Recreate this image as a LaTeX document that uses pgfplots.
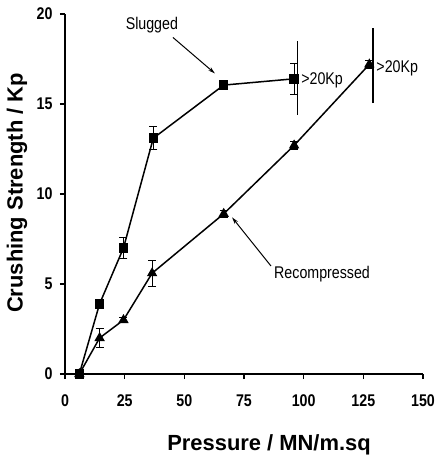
\documentclass[border=0pt]{standalone}
\usepackage{fontspec}
\setmainfont{Liberation Sans}
\newfontfamily\condfont{Liberation Sans}[FakeStretch=0.84]
\usepackage{pgfplots}
\pgfplotsset{compat=1.18}
\usetikzlibrary{arrows.meta}
\begin{document}
\begin{tikzpicture}
\useasboundingbox (-65bp,-82bp) rectangle (373bp,374bp);
\begin{axis}[
  scale only axis, width=358bp, height=360bp,
  xmin=0, xmax=150, ymin=0, ymax=20,
  axis x line*=bottom, axis y line*=left,
  axis line style={line width=1.5bp,-},
  xtick={0,25,...,150}, ytick={0,5,...,20},
  tick align=outside, major tick length=5bp,
  tick style={line width=1.1bp,black},
  ticklabel style={font=\condfont\bfseries\fontsize{17}{17}\selectfont},
  xticklabel style={yshift=-12bp},
  yticklabel style={xshift=-4bp},
  /pgf/number format/assume math mode=true,
  xlabel={\bfseries Pressure / MN/m.sq},
  ylabel={\bfseries Crushing Strength / Kp},
  label style={font=\fontsize{22}{22}\selectfont},
  xlabel style={at={(rel axis cs:0.57,0)}, anchor=base, yshift=-76bp},
  ylabel style={at={(rel axis cs:0,0.503)}, anchor=center, rotate=0, yshift=48bp},
  clip=false,
]
% Slugged
\addplot[black, line width=1.5bp, mark=square*, mark size=4bp,
  error bars/.cd, y dir=both, y explicit,
  error bar style={line width=1.1bp},
  error mark options={rotate=90, mark size=4bp, line width=1.1bp}]
  coordinates {
  (6,0) +- (0,0)
  (14.5,3.9) +- (0,0.1)
  (24.5,7.0) +- (0,0.6)
  (37,13.1) +- (0,0.65)
  (66.5,16.05) +- (0,0.1)
  (96,16.4) +- (0,0.85)
  };
% Recompressed
\addplot[black, line width=1.5bp, mark=triangle*, mark size=4.5bp,
  error bars/.cd, y dir=both, y explicit,
  error bar style={line width=1.1bp},
  error mark options={rotate=90, mark size=4bp, line width=1.1bp}]
  coordinates {
  (6,0) +- (0,0)
  (14.5,2.0) +- (0,0.55)
  (24.5,3.0) +- (0,0.15)
  (36.5,5.6) +- (0,0.72)
  (66.5,8.9) +- (0,0.2)
  (96,12.7) +- (0,0.2)
  (127.5,17.2) +- (0,0.2)
  };
% range lines
\addplot[black, line width=1.2bp] coordinates {(97.5,14.4) (97.5,18.5)};
\addplot[black, line width=1.4bp] coordinates {(129,15.05) (129,19.2)};
% annotations
\node[font=\condfont\fontsize{17}{17}\selectfont] at (axis cs:36.4,19.4) {Slugged};
\draw[-{Stealth[length=7bp,width=4bp]}, line width=1bp] (axis cs:45.2,18.7) -- (axis cs:62.8,16.7);
\node[font=\condfont\fontsize{17}{17}\selectfont] at (axis cs:107.7,5.56) {Recompressed};
\draw[-{Stealth[length=7bp,width=4bp]}, line width=1bp] (axis cs:86.3,6.0) -- (axis cs:70,8.7);
\node[anchor=west, inner sep=1bp, font=\condfont\fontsize{17}{17}\selectfont] at (axis cs:98.5,16.3) {>20Kp};
\node[anchor=west, inner sep=1bp, font=\condfont\fontsize{17}{17}\selectfont] at (axis cs:130,17.0) {>20Kp};
\end{axis}
\end{tikzpicture}
\end{document}
